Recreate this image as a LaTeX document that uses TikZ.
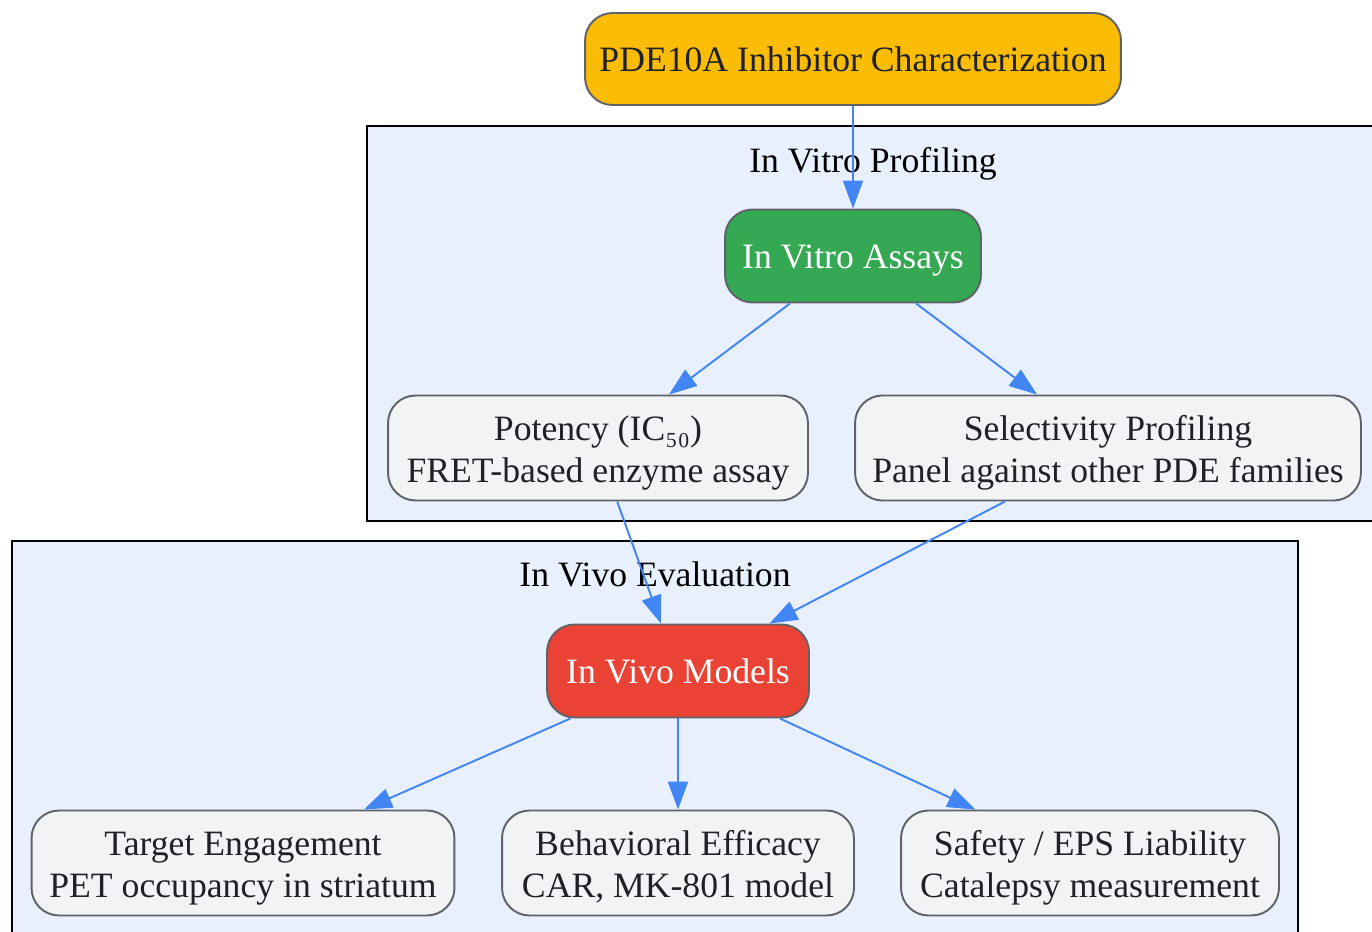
\documentclass[tikz,border=0pt]{standalone}
\usepackage{fontspec}
\setmainfont{Liberation Serif}
\usepackage{tikz}
\usetikzlibrary{arrows.meta}
\definecolor{gyellow}{HTML}{FABC05}
\definecolor{ggreen}{HTML}{34A853}
\definecolor{gred}{HTML}{EA4335}
\definecolor{gblue}{HTML}{4285F4}
\definecolor{ggrey}{HTML}{F1F3F4}
\definecolor{gedge}{HTML}{5F6368}
\definecolor{gtext}{HTML}{202124}
\definecolor{clusterfill}{HTML}{E8F0FE}

\begin{document}
\begin{tikzpicture}[x=0.02cm, y=-0.02cm,
    font=\fontsize{20.3}{23.8}\selectfont,
    box/.style={draw=gedge, line width=1.1pt, rounded corners=0.55cm, align=center, inner sep=0pt, text=gtext, fill=ggrey, minimum height=2.1cm,
        text height=43.5pt, text depth=4.3pt},
    onebox/.style={box, minimum height=1.86cm, text height=18.5pt, text depth=4.3pt},
    flow/.style={-{Triangle[length=0.56cm, width=0.4cm]}, draw=gblue, fill=gblue, line width=1.1pt},
    cluster/.style={draw=black, line width=1.1pt, fill=clusterfill}]
        \useasboundingbox (0,0) rectangle (1372,932);
        \fill[white] (0,0) rectangle (1372,932);

        % clusters
        \draw[cluster] (367,126) rectangle (1380,521);
        \node[anchor=base] at (873,173) (vitrolabel) {In Vitro Profiling};
        \draw[cluster] (12,541) rectangle (1298,945);
        \node[anchor=base] at (655,586) (vivolabel) {In Vivo Evaluation};

        \node[onebox, fill=gyellow, minimum width=10.72cm, minimum height=1.84cm] at (853,59)   (start) {PDE10A Inhibitor Characterization};
        \node[onebox, fill=ggreen, text=white, minimum width=5.12cm] at (853,256)   (assays) {In Vitro Assays};
        \node[box, minimum width=8.4cm] at (598,448)   (potency) {Potency (IC₅₀)\\FRET-based enzyme assay};
        \node[box, minimum width=10.12cm] at (1108,448)   (select) {Selectivity Profiling\\Panel against other PDE families};
        \node[onebox, fill=gred, text=white, minimum width=5.24cm] at (678,671)   (models) {In Vivo Models};
        \node[box, minimum width=8.46cm] at (243,863)   (target) {Target Engagement\\PET occupancy in striatum};
        \node[box, minimum width=7.04cm] at (678,863)   (behav) {Behavioral Efficacy\\CAR, MK-801 model};
        \node[box, minimum width=7.56cm] at (1090,863)   (safety) {Safety / EPS Liability\\Catalepsy measurement};

        \draw[flow] (start) -- (assays);
        \draw[flow] (assays) -- (potency);
        \draw[flow] (assays) -- (select);
        \draw[flow] (potency) -- (models);
        \draw[flow] (select) -- (models);
        \draw[flow] (models) -- (target);
        \draw[flow] (models) -- (behav);
        \draw[flow] (models) -- (safety);
\end{tikzpicture}
\end{document}
